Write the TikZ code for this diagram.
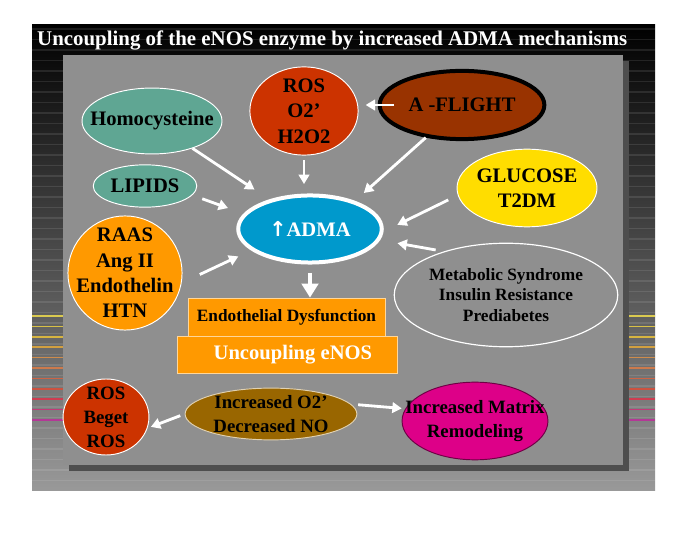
\documentclass[tikz,border=0pt]{standalone}
\usepackage{fontspec}
\setmainfont{Liberation Serif}
\newfontfamily\arrowfont{DejaVu Sans}
\usetikzlibrary{shapes.geometric,arrows.meta}

\definecolor{panelgray}{HTML}{8F8F8F}
\definecolor{shadowgray}{HTML}{4E4E4E}
\definecolor{homoteal}{HTML}{5FA693}
\definecolor{rosred}{HTML}{CC3300}
\definecolor{flightbrown}{HTML}{993300}
\definecolor{glucoseyellow}{HTML}{FFDD00}
\definecolor{admablue}{HTML}{0099CC}
\definecolor{raasorange}{HTML}{FF9900}
\definecolor{otwobrown}{HTML}{996600}
\definecolor{matrixpink}{HTML}{DD0088}

\begin{document}
\begin{tikzpicture}[x=0.85pt, y=-0.85pt]
  \tikzstyle{blob} = [ellipse, draw=white, line width=0.8pt, inner sep=0pt]
  \tikzstyle{blobtext} = [font=\fontsize{17.5}{21.5}\selectfont\bfseries, align=center]
  \tikzstyle{smalltext} = [font=\fontsize{14.7}{17.5}\selectfont\bfseries, align=center]
  \tikzstyle{bar} = [rectangle, draw={raasorange!40!white}, line width=0.6pt, fill=raasorange, inner sep=0pt]
  \tikzstyle{arr} = [draw=white, line width=2.4pt, -{Triangle[width=9pt, length=8pt]}]

  \useasboundingbox (0,0) rectangle (685,538);
  \fill[white] (0,0) rectangle (685,538);

  % slide background
  \shade[top color=black, middle color=black!58, bottom color=black!40] (32,25) rectangle (655,491);
  \foreach \y in {29,39.5,...,488}
    \draw[white, opacity=0.1, line width=0.9pt] (32,\y) -- (655,\y);
  \foreach \r/\g/\b [count=\i from 0] in {218/202/80, 216/192/70, 214/180/64, 210/160/64, 206/140/76, 204/122/76, 204/100/70, 204/82/64, 206/60/80, 196/56/120, 180/56/150}
    \draw[line width=1.4pt, draw={rgb,255:red,\r;green,\g;blue,\b}] (32,316+10.4*\i) -- (63,316+10.4*\i) (628,316+10.4*\i) -- (655,316+10.4*\i);

  % panel
  \fill[shadowgray] (69,61) rectangle (629,471);
  \fill[panelgray] (63,55) rectangle (623,465);

  \node[anchor=west, inner sep=0pt, text=white, font=\fontsize{17.75}{20}\selectfont\bfseries] (title) at (37,40)
    {Uncoupling of the eNOS enzyme by increased ADMA mechanisms};

  % causes
  \node[blob, fill=homoteal, minimum width=119pt, minimum height=56pt] (homo) [label={[blobtext]center:Homocysteine}] at (152,121) {};
  \node[blob, fill=homoteal, minimum width=88pt, minimum height=36pt] (lipids) [label={[blobtext]center:LIPIDS}] at (145,186) {};
  \node[blob, fill=rosred, minimum width=92pt, minimum height=75pt] (ros) [label={[blobtext]center:{ROS\\O2'\\H2O2}}] at (304,111) {};
  \node[blob, draw=black, line width=3.4pt, fill=flightbrown, minimum width=140pt, minimum height=58pt] (aflight) [label={[blobtext]center:A -FLIGHT}] at (462,105) {};
  \node[blob, fill=glucoseyellow, minimum width=119pt, minimum height=66pt] (glucose) [label={[blobtext]center:{GLUCOSE\\T2DM}}] at (527,188) {};
  \node[blob, circle, fill=raasorange, minimum size=97pt] (raas) [label={[blobtext]center:{RAAS\\Ang II\\Endothelin\\HTN}}] at (125,273) {};
  \node[blob, line width=1pt, fill=panelgray, minimum width=190pt, minimum height=88pt] (metab) [label={[smalltext]center:{Metabolic Syndrome\\Insulin Resistance\\Prediabetes}}] at (506,295) {};

  \node[blob, line width=3.4pt, fill=admablue, minimum width=122pt, minimum height=57pt] (adma) [label={[blobtext, text=white]center:{\arrowfont\bfseries ↑}ADMA}] at (310,229) {};

  % outcome
  \node[bar, minimum width=167.5pt, minimum height=32.3pt] (dysf) [label={[smalltext]center:Endothelial Dysfunction}] at (286.5,317) {};
  \node[bar, minimum width=187pt, minimum height=31.5pt] (uncoup) [label={[blobtext, text=white, xshift=5pt]center:Uncoupling eNOS}] at (287,354.5) {};

  \node[blob, fill=rosred, minimum width=73pt, minimum height=64.6pt] (rosb) [label={[blobtext, font=\fontsize{16}{20.5}\selectfont\bfseries]center:{ROS\\Beget\\ROS}}] at (106,417) {};
  \node[blob, draw={otwobrown!30!white}, fill=otwobrown, minimum width=146pt, minimum height=44pt] (otwo) [label={[blobtext, font=\fontsize{16}{20}\selectfont\bfseries]center:{Increased O2'\\Decreased NO}}] at (271,414) {};
  \node[blob, draw={matrixpink!50!black}, fill=matrixpink, minimum width=124pt, minimum height=66pt] (matrix) [label={[blobtext, font=\fontsize{16}{20.5}\selectfont\bfseries]center:{Increased Matrix\\Remodeling}}] at (475,421) {};

  % arrows
  \draw[arr, shorten <=-14pt, shorten >=6pt] (aflight.west) -- (aflight.west -| ros.east);
  \draw[arr, shorten >=15pt] (homo.-34) -- (adma.144);
  \draw[arr, shorten <=9pt, shorten >=14pt] (lipids.-11) -- (adma.167);
  \draw[arr, shorten <=4pt, shorten >=8pt] (ros.south) -- (ros.south |- adma.north);
  \draw[arr, shorten >=10pt] (aflight.222) -- (adma.32);
  \draw[arr, shorten <=9pt, shorten >=13pt] (glucose.186) -- (adma.-2);
  \draw[arr, shorten <=7pt, shorten >=15pt] (metab.145) -- (adma.-9);
  \draw[arr, shorten <=17pt, shorten >=12pt] (raas.-10) -- (adma.200);
  \draw[draw=white, line width=4.2pt, -{Triangle[width=14pt, length=12pt]}, shorten <=7pt] (adma.south) -- (adma.south |- dysf.north);
  \draw[arr, shorten <=4pt, shorten >=3pt] (otwo.west) -- (rosb.-15);
  \draw[arr, shorten <=6pt, shorten >=3pt] (otwo.7) -- (matrix.170);

\end{tikzpicture}
\end{document}
